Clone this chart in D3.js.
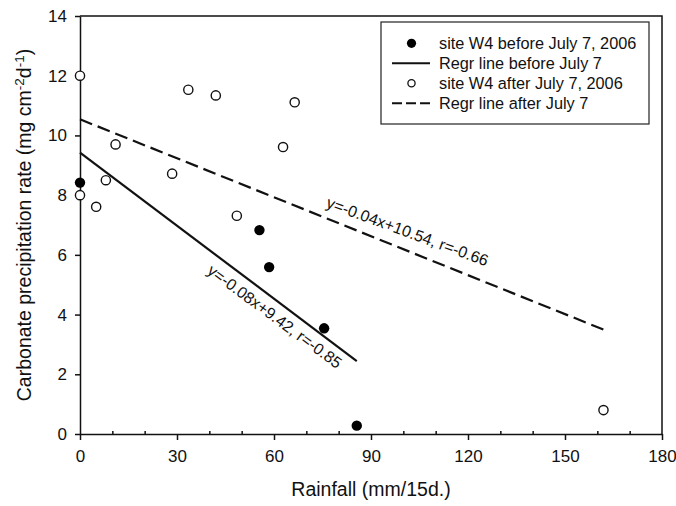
<!DOCTYPE html>
<html>
<head>
<meta charset="utf-8">
<script src="https://cdn.jsdelivr.net/npm/d3@7"></script>
<style>
  html, body { margin: 0; padding: 0; background: #fff; }
  svg { display: block; font-family: "Liberation Sans", Arial, sans-serif; }
</style>
</head>
<body>
<svg id="chart" width="676" height="506"></svg>
<script>
// Rainfall (mm per 15 days) vs carbonate precipitation rate at site W4
const beforeRain = [0, 55.5, 58.5, 75.5, 85.6];
const beforeRate = [8.42, 6.83, 5.59, 3.54, 0.28];
const afterRain  = [0, 0, 5, 8, 11, 28.5, 33.5, 42, 48.5, 62.8, 66.4, 161.9];
const afterRate  = [12.0, 8.0, 7.61, 8.5, 9.7, 8.72, 11.53, 11.34, 7.31, 9.61, 11.11, 0.8];

// Regression fits: slope, intercept, correlation, x-extent
const fitNames      = ["before", "after"];
const fitSlope      = [-0.0815, -0.0435];
const fitIntercept  = [9.42, 10.54];
const fitR          = [-0.85, -0.66];
const fitXMax       = [85.6, 161.9];

const xTicks = [0, 30, 60, 90, 120, 150, 180];
const xMinorTicks = [10, 20, 40, 50, 70, 80, 100, 110, 130, 140, 160, 170];
const yTicks = [0, 2, 4, 6, 8, 10, 12, 14];

const legendLabels = [
  "site W4 before July 7, 2006",
  "Regr line before July 7",
  "site W4 after July 7, 2006",
  "Regr line after July 7"
];

const svg = d3.select("#chart");
const plotLeft = 80, plotRight = 662, plotTop = 16, plotBottom = 434;

const x = d3.scaleLinear().domain([0, 180]).range([plotLeft, plotRight]);
const y = d3.scaleLinear().domain([0, 14]).range([plotBottom, plotTop]);

// frame (top and right edges)
svg.append("path")
  .attr("d", `M${plotLeft},${plotTop}H${plotRight}V${plotBottom}`)
  .attr("fill", "none").attr("stroke", "#111").attr("stroke-width", 1.5);

// x axis with major ticks outward and minor ticks inward
const gx = svg.append("g").attr("transform", `translate(0,${plotBottom})`)
  .call(d3.axisBottom(x).tickValues(xTicks).tickSize(6).tickSizeOuter(0).tickPadding(10).tickFormat(d3.format("d")));
const gxMinor = svg.append("g").attr("transform", `translate(0,${plotBottom})`)
  .call(d3.axisBottom(x).tickValues(xMinorTicks).tickSize(-3).tickSizeOuter(0).tickFormat(""));
gxMinor.select(".domain").remove();

const gy = svg.append("g").attr("transform", `translate(${plotLeft},0)`)
  .call(d3.axisLeft(y).tickValues(yTicks).tickSize(5).tickSizeOuter(0).tickPadding(8).tickFormat(d3.format("d")));

[gx, gxMinor, gy].forEach(g => {
  g.selectAll("path, line").attr("stroke", "#111").attr("stroke-width", 1.5);
  g.selectAll("text").attr("font-size", 17).attr("fill", "#111")
    .attr("font-family", "'Liberation Sans', Arial, sans-serif");
});

// axis titles
svg.append("text")
  .attr("x", (plotLeft + plotRight) / 2).attr("y", 496)
  .attr("text-anchor", "middle").attr("font-size", 19.5).attr("fill", "#111")
  .text("Rainfall (mm/15d.)");

const yTitle = svg.append("text")
  .attr("transform", `translate(31,225) rotate(-90)`)
  .attr("text-anchor", "middle").attr("font-size", 19.5).attr("fill", "#111");
yTitle.append("tspan").text("Carbonate precipitation rate (mg cm");
yTitle.append("tspan").attr("font-size", 13.5).attr("dy", -7).text("-2");
yTitle.append("tspan").attr("dy", 7).text("d");
yTitle.append("tspan").attr("font-size", 13.5).attr("dy", -7).text("-1");
yTitle.append("tspan").attr("dy", 7).text(")");

// regression lines
const dashes = ["none", "13,6"];
fitNames.forEach((n, i) => {
  svg.append("line")
    .attr("x1", x(0)).attr("y1", y(fitIntercept[i]))
    .attr("x2", x(fitXMax[i])).attr("y2", y(fitIntercept[i] + fitSlope[i] * fitXMax[i]))
    .attr("stroke", "#111").attr("stroke-width", 2.2)
    .attr("stroke-dasharray", dashes[i]);
});

// equation labels along the lines
const labelStartX = [42.7, 74.8];
const labelOffset = [20, -10];
fitNames.forEach((n, i) => {
  const shown = +fitSlope[i].toFixed(2);
  const angle = Math.atan2(y(shown) - y(0), x(1) - x(0)) * 180 / Math.PI;
  const lx = x(labelStartX[i]);
  const ly = y(fitIntercept[i] + fitSlope[i] * labelStartX[i]);
  svg.append("text")
    .attr("transform", `translate(${lx},${ly}) rotate(${angle})`)
    .attr("dy", labelOffset[i])
    .attr("font-size", 16).attr("fill", "#111")
    .text(`y=${fitSlope[i].toFixed(2)}x+${fitIntercept[i].toFixed(2)}, r=${fitR[i].toFixed(2)}`);
});

// data points
svg.append("g").selectAll("circle").data(afterRain.map((d, i) => [d, afterRate[i]]))
  .join("circle")
  .attr("cx", d => x(d[0])).attr("cy", d => y(d[1])).attr("r", 4.6)
  .attr("fill", "#fff").attr("stroke", "#111").attr("stroke-width", 1.4);
svg.append("g").selectAll("circle").data(beforeRain.map((d, i) => [d, beforeRate[i]]))
  .join("circle")
  .attr("cx", d => x(d[0])).attr("cy", d => y(d[1])).attr("r", 5.2)
  .attr("fill", "#000");

// legend
const lg = svg.append("g");
lg.append("rect").attr("x", 381).attr("y", 22).attr("width", 268).attr("height", 102)
  .attr("fill", "#fff").attr("stroke", "#222").attr("stroke-width", 1.2);
legendLabels.forEach((t, i) => {
  const cy = 43.3 + i * 20;
  if (i === 0) lg.append("circle").attr("cx", 411.5).attr("cy", cy).attr("r", 4.6).attr("fill", "#000");
  if (i === 2) lg.append("circle").attr("cx", 411.5).attr("cy", cy).attr("r", 3.6)
    .attr("fill", "#fff").attr("stroke", "#111").attr("stroke-width", 1.3);
  if (i === 1 || i === 3) lg.append("line").attr("x1", 392).attr("x2", 430).attr("y1", cy).attr("y2", cy)
    .attr("stroke", "#111").attr("stroke-width", 2)
    .attr("stroke-dasharray", i === 3 ? "10,4" : "none");
  lg.append("text").attr("x", 439).attr("y", cy + 5.8).attr("font-size", 16.3).attr("fill", "#111").text(t);
});
</script>
</body>
</html>
